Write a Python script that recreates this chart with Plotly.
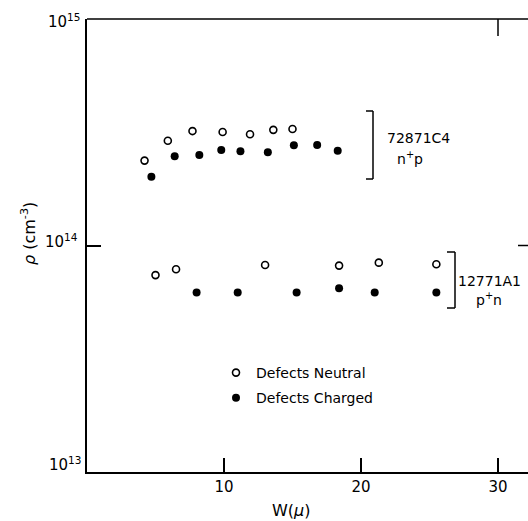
import plotly.graph_objects as go

# Sample 72871C4 (n+p): width W (microns) and density rho (cm^-3)
w_72871c4_neutral = [4.2, 5.9, 7.7, 9.9, 11.9, 13.6, 15.0]
rho_72871c4_neutral = [2.37e14, 2.90e14, 3.20e14, 3.17e14, 3.10e14, 3.24e14, 3.27e14]
w_72871c4_charged = [4.7, 6.4, 8.2, 9.8, 11.2, 13.2, 15.1, 16.8, 18.3]
rho_72871c4_charged = [2.01e14, 2.48e14, 2.51e14, 2.64e14, 2.61e14, 2.58e14, 2.77e14, 2.78e14, 2.62e14]

# Sample 12771A1 (p+n)
w_12771a1_neutral = [5.0, 6.5, 13.0, 18.4, 21.3, 25.5]
rho_12771a1_neutral = [7.4e13, 7.85e13, 8.2e13, 8.15e13, 8.4e13, 8.27e13]
w_12771a1_charged = [8.0, 11.0, 15.3, 18.4, 21.0, 25.5]
rho_12771a1_charged = [6.2e13, 6.2e13, 6.2e13, 6.48e13, 6.2e13, 6.2e13]

x_ticks = [10, 20, 30]
x_tick_labels = ["10", "20", "30"]
y_tick_labels = ["10<sup>13</sup>", "10<sup>14</sup>", "10<sup>15</sup>"]

FONT = "DejaVu Sans"
W, H = 528, 521
L, R, T, B = 87, 0, 19, 49
PW, PH = W - L - R, H - T - B


def px(xp):
    return (xp - L) / PW


def py(yp):
    return (H - B - yp) / PH


open_marker = dict(symbol="circle-open", size=7, color="black", line=dict(width=1.6, color="black"))
filled_marker = dict(symbol="circle", size=8, color="black")

fig = go.Figure()
fig.add_trace(go.Scatter(x=w_72871c4_neutral, y=rho_72871c4_neutral, mode="markers",
                         marker=open_marker, name="Defects Neutral", legendgroup="neutral"))
fig.add_trace(go.Scatter(x=w_72871c4_charged, y=rho_72871c4_charged, mode="markers",
                         marker=filled_marker, name="Defects Charged", legendgroup="charged"))
fig.add_trace(go.Scatter(x=w_12771a1_neutral, y=rho_12771a1_neutral, mode="markers",
                         marker=open_marker, name="Defects Neutral", legendgroup="neutral",
                         showlegend=False))
fig.add_trace(go.Scatter(x=w_12771a1_charged, y=rho_12771a1_charged, mode="markers",
                         marker=filled_marker, name="Defects Charged", legendgroup="charged",
                         showlegend=False))

line = dict(color="black", width=1.5)
shapes = [
    # top frame line and its tick at W = 30
    dict(type="line", xref="paper", yref="paper", x0=0, x1=1, y0=1, y1=1, line=line),
    dict(type="line", xref="x", yref="paper", x0=30, x1=30, y0=1, y1=1 - 17 / PH, line=line),
    # right-hand tick at 10^14
    dict(type="line", xref="paper", yref="paper", x0=1 - 10 / PW, x1=1, y0=0.5, y1=0.5, line=line),
]

# sample brackets
for xv, xs, y_top, y_bot in [(373, 366, 111, 179), (455, 447, 252, 308)]:
    shapes += [
        dict(type="line", xref="paper", yref="paper", x0=px(xv), x1=px(xv), y0=py(y_top), y1=py(y_bot), line=line),
        dict(type="line", xref="paper", yref="paper", x0=px(xs), x1=px(xv), y0=py(y_top), y1=py(y_top), line=line),
        dict(type="line", xref="paper", yref="paper", x0=px(xs), x1=px(xv), y0=py(y_bot), y1=py(y_bot), line=line),
    ]

annotations = []
for lab, xr, yc in zip(y_tick_labels, [83, 80, 82], [464, 241, 21]):
    annotations.append(dict(text=lab, xref="paper", yref="paper", x=px(xr), y=py(yc),
                            xanchor="right", yanchor="middle", showarrow=False,
                            font=dict(family=FONT, size=15, color="black")))

for txt, xc, yc in [("72871C4", 418, 138), ("n<sup>+</sup>p", 410, 158),
                    ("12771A1", 489, 281), ("p<sup>+</sup>n", 489, 299)]:
    annotations.append(dict(text=txt, xref="paper", yref="paper", x=px(xc), y=py(yc),
                            xanchor="center", yanchor="middle", showarrow=False,
                            font=dict(family=FONT, size=14, color="black")))

annotations.append(dict(text="W(<i>μ</i>)", xref="paper", yref="paper", x=px(291), y=py(510),
                        xanchor="center", yanchor="middle", showarrow=False,
                        font=dict(family=FONT, size=16, color="black")))
annotations.append(dict(text="<i>ρ</i> (cm<sup>-3</sup>)", xref="paper", yref="paper", x=px(28), y=py(234),
                        xanchor="center", yanchor="middle", textangle=-90, showarrow=False,
                        font=dict(family=FONT, size=16, color="black")))

fig.update_layout(
    width=W, height=H,
    margin=dict(l=L, r=R, t=T, b=B),
    paper_bgcolor="white", plot_bgcolor="white",
    font=dict(family=FONT, size=15, color="black"),
    shapes=shapes,
    annotations=annotations,
    showlegend=True,
    legend=dict(x=px(236 - 20), y=py(357), xanchor="left", yanchor="top",
                bgcolor="rgba(0,0,0,0)", font=dict(family=FONT, size=14, color="black"),
                tracegroupgap=4),
)
fig.update_xaxes(range=[0, PW / 13.7], tickvals=x_ticks, ticktext=x_tick_labels,
                 ticks="inside", ticklen=14, tickwidth=1.5, tickcolor="black",
                 showline=True, linecolor="black", linewidth=1.5,
                 showgrid=False, zeroline=False, tickfont=dict(family=FONT, size=15))
fig.update_yaxes(type="log", range=[13, 15], tickvals=[1e14],
                 ticks="inside", ticklen=14, tickwidth=1.5, tickcolor="black",
                 showticklabels=False, showline=True, linecolor="black", linewidth=1.5,
                 showgrid=False, zeroline=False)

fig.write_html("out.html")
